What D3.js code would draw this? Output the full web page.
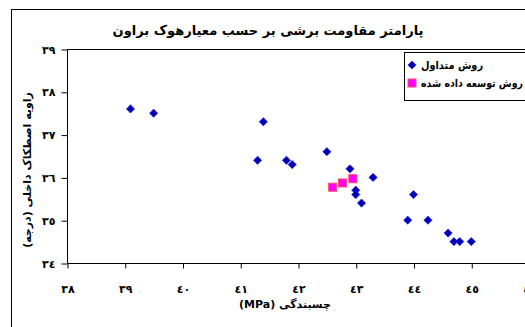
<!DOCTYPE html>
<html>
<head>
<meta charset="utf-8">
<script src="https://cdn.jsdelivr.net/npm/d3@7"></script>
<style>
  body { margin: 0; background: #fff; }
  text { font-family: "DejaVu Sans", sans-serif; font-weight: bold; fill: #000; }
</style>
</head>
<body>
<div id="chart"></div>
<script>
// conventional method (blue diamonds)
const convX = [39.1, 39.5, 41.4, 41.3, 41.8, 41.9, 42.5, 42.9, 43.3, 43.0, 43.0, 43.1, 44.0, 43.9, 44.25, 44.6, 44.7, 44.8, 45.0];
const convY = [37.6, 37.5, 37.3, 36.4, 36.4, 36.3, 36.6, 36.2, 36.0, 35.7, 35.6, 35.4, 35.6, 35.0, 35.0, 34.7, 34.5, 34.5, 34.5];
// developed method (magenta squares)
const devX = [42.6, 42.77, 42.95];
const devY = [35.77, 35.87, 35.97];

const xTicks = [38, 39, 40, 41, 42, 43, 44, 45, 46];
const yTicks = [34, 35, 36, 37, 38, 39];

const titleText = 'پارامتر مقاومت برشی بر حسب معیارهوک براون';
const xLabel = 'چسبندگی (MPa)';
const yLabel = 'زاویه اصطکاک داخلی (درجه)';
const legendNames = ['روش متداول', 'روش توسعه داده شده'];

const svgWidth = 525, svgHeight = 327;
const plot = { left: 67, top: 49, right: 529, bottom: 263 };

// arabic-indic digits for tick labels
const toArabic = n => String(n).replace(/[0-9]/g, c => '٠١٢٣٤٥٦٧٨٩'[+c]);

const svg = d3.select('#chart')
    .append('svg')
    .attr('width', svgWidth)
    .attr('height', svgHeight);

// outer chart frame
svg.append('rect')
    .attr('x', 11.5).attr('y', 9.5)
    .attr('width', 600).attr('height', 400)
    .style('fill', '#fff').style('stroke', '#000').style('stroke-width', 1);

const x = d3.scaleLinear().domain([38, 46]).range([plot.left, plot.right]);
const y = d3.scaleLinear().domain([34, 39]).range([plot.bottom, plot.top]);

// plot area border
svg.append('rect')
    .attr('x', plot.left + 0.5).attr('y', plot.top + 0.5)
    .attr('width', plot.right - plot.left).attr('height', plot.bottom - plot.top)
    .style('fill', '#fff').style('stroke', '#000');

const xAxis = svg.append('g')
    .attr('transform', `translate(0.5, ${plot.bottom + 0.5})`)
    .call(d3.axisBottom(x).tickValues(xTicks).tickSize(5).tickPadding(17).tickFormat(toArabic));

const yAxis = svg.append('g')
    .attr('transform', `translate(${plot.left + 0.5}, 0.5)`)
    .call(d3.axisLeft(y).tickValues(yTicks).tickSize(6).tickPadding(6).tickFormat(toArabic));

[xAxis, yAxis].forEach(a => {
    a.select('.domain').remove();
    a.selectAll('line').style('stroke', '#000');
    a.selectAll('text').style('font-size', '11px').style('font-family', '"DejaVu Sans", sans-serif').style('font-weight', 'bold');
});

// title and axis labels
svg.append('text')
    .attr('x', 268).attr('y', 35)
    .attr('direction', 'rtl')
    .style('text-anchor', 'middle')
    .style('font-size', '13px')
    .text(titleText);

svg.append('text')
    .attr('x', 285).attr('y', 308)
    .attr('direction', 'rtl')
    .style('text-anchor', 'middle')
    .style('font-size', '11px')
    .text(xLabel);

svg.append('text')
    .attr('transform', 'translate(31, 170) rotate(-90)')
    .attr('direction', 'rtl')
    .style('text-anchor', 'middle')
    .style('font-size', '11px')
    .text(yLabel);

// points
const diamond = d3.symbol().type(d3.symbolSquare).size(34);

svg.append('g').selectAll('path')
    .data(convX.map((v, i) => [v, convY[i]]))
    .enter().append('path')
    .attr('d', diamond)
    .attr('transform', d => `translate(${x(d[0])}, ${y(d[1])}) rotate(45)`)
    .style('fill', '#0000B0')
    .style('stroke', '#1a1aff')
    .style('stroke-width', 0.6);

svg.append('g').selectAll('rect')
    .data(devX.map((v, i) => [v, devY[i]]))
    .enter().append('rect')
    .attr('x', d => x(d[0]) - 4)
    .attr('y', d => y(d[1]) - 4)
    .attr('width', 8).attr('height', 8)
    .style('fill', '#FF00FF')
    .style('stroke', '#ff4a6a')
    .style('stroke-width', 1);

// legend
const legend = svg.append('g').attr('class', 'legend');
legend.append('rect')
    .attr('x', 404.5).attr('y', 52.5)
    .attr('width', 140).attr('height', 48)
    .style('fill', '#fff').style('stroke', '#000');

legend.append('path')
    .attr('d', diamond)
    .attr('transform', 'translate(412, 65) rotate(45)')
    .style('fill', '#0000B0').style('stroke', '#1a1aff').style('stroke-width', 0.6);

legend.append('rect')
    .attr('x', 408).attr('y', 79)
    .attr('width', 8).attr('height', 8)
    .style('fill', '#FF00FF').style('stroke', '#ff4a6a');

const legendWidths = [62, 102];
legend.selectAll('text.name')
    .data(legendNames).enter()
    .append('text').attr('class', 'name')
    .attr('x', 421)
    .attr('y', (d, i) => 69 + i * 18)
    .attr('textLength', (d, i) => legendWidths[i])
    .attr('lengthAdjust', 'spacingAndGlyphs')
    .style('text-anchor', 'start')
    .style('font-size', '11px')
    .text(d => d);
</script>
</body>
</html>
